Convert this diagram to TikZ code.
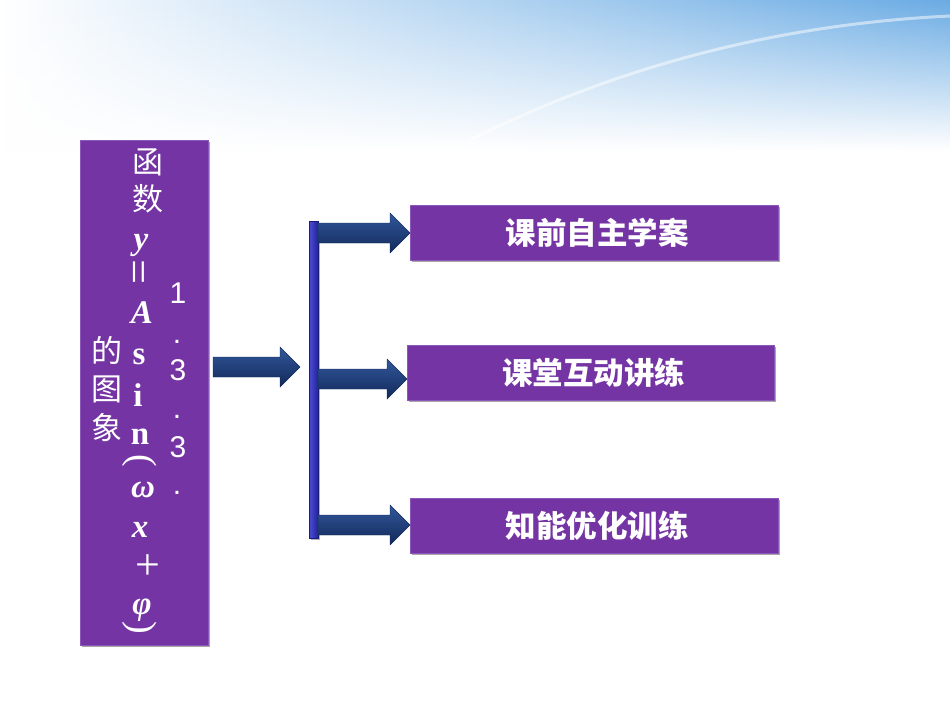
\documentclass[tikz,border=0pt]{standalone}
\usepackage{fontspec}
\setmainfont{Liberation Serif}
\newfontfamily\cjk{Noto Sans CJK SC}
\newfontfamily\sansf{Liberation Sans}
\usetikzlibrary{calc,shadows,fadings}
\definecolor{boxpurple}{HTML}{7434A4}
\definecolor{boxedge}{HTML}{8B58B9}
\definecolor{navytop}{HTML}{31579A}
\definecolor{navybot}{HTML}{12295A}
\definecolor{barlight}{HTML}{4C4CD2}
\definecolor{bardark}{HTML}{22229A}
\definecolor{skyblue}{HTML}{6AABE4}
\tikzfading[name=skyfade, top color=transparent!0, bottom color=transparent!100]
\tikzset{
  purplebox/.style={rectangle, fill=boxpurple, draw=boxedge, line width=0.6pt,
    inner sep=0pt, text=white,
    drop shadow={shadow xshift=2pt, shadow yshift=-2pt, opacity=0.35, fill=black}},
  glyph/.style={inner sep=0pt, text=white, font=\fontsize{30}{30}\selectfont},
  cglyph/.style={glyph, font=\cjk\fontsize{31}{31}\selectfont},
  lglyph/.style={glyph, font=\bfseries\itshape\fontsize{33}{33}\selectfont},
  rglyph/.style={glyph, font=\bfseries\fontsize{33}{33}\selectfont},
  dglyph/.style={glyph, font=\sansf\fontsize{30}{30}\selectfont},
  boxtext/.style={font=\cjk\bfseries\fontsize{30.5}{30.5}\selectfont},
  arrowshade/.style={top color=navytop, bottom color=navybot, draw=navybot, line width=0.4pt}
}
\newcommand\blockarrow[2]{%
  \shade[arrowshade] let \p1=(#1), \p2=(#2) in
    (\x1,\y1+10pt) -- (\x2-20pt,\y1+10pt) -- (\x2-20pt,\y1+20pt) -- (\x2,\y1)
    -- (\x2-20pt,\y1-20pt) -- (\x2-20pt,\y1-10pt) -- (\x1,\y1-10pt) -- cycle;}
\begin{document}
\begin{tikzpicture}[x=1pt,y=-1pt]
\useasboundingbox (0,0) rectangle (950,713);
\fill[white] (0,0) rectangle (950,713);
% sky
\shade[left color=white, right color=skyblue, path fading=skyfade] (0,0) rectangle (950,150);
\draw[white, opacity=0.5, line width=3pt] (470,140) .. controls (600,75) and (760,25) .. (950,16);

% left box
\node[purplebox, minimum width=128pt, minimum height=505pt, anchor=north west] (L) at (80,140) {};
% column 1
\node[cglyph] (c1a) at (107,350) {的};
\node[cglyph] (c1b) at (107,389) {图};
\node[cglyph] (c1c) at (107,427) {象};
% column 2
\node[cglyph] (c2a) at (148,162) {函};
\node[cglyph] (c2b) at (148,199) {数};
\node[lglyph] (c2c) at (141,245) {y};
\node[glyph, rotate=90, font=\fontsize{44}{44}\selectfont] (c2d) at (143,272) {=};
\node[lglyph] (c2e) at (142,313) {A};
\node[rglyph] (c2f) at (139,357) {s};
\node[rglyph] (c2g) at (138,395) {i};
\node[rglyph] (c2h) at (140,437) {n};
\node[glyph, rotate=-90, font=\fontsize{38}{38}\selectfont] (c2i) at (140,461) {(};
\node[lglyph] (c2j) at (143,490) {ω};
\node[lglyph] (c2k) at (140,530) {x};
\node[glyph, font=\fontsize{44}{44}\selectfont] (c2l) at (148,567) {+};
\node[lglyph] (c2m) at (142,610) {φ};
\node[glyph, rotate=-90, font=\fontsize{38}{38}\selectfont] (c2n) at (140,628) {)};
% column 3
\node[dglyph] (c3a) at (178,293) {1};
\node[dglyph] (c3b) at (177,342) {.};
\node[dglyph] (c3c) at (178,370) {3};
\node[dglyph] (c3d) at (177,417) {.};
\node[dglyph] (c3e) at (178,447) {3};
\node[dglyph] (c3f) at (177,493) {.};

% bar
\node[rectangle, inner sep=0pt, minimum width=9pt, minimum height=317pt, anchor=north west,
  left color=barlight, right color=bardark, draw=bardark!80!black, line width=0.4pt,
  drop shadow={shadow xshift=1.5pt, shadow yshift=-1.5pt, opacity=0.3, fill=black}] (bar) at (309,221) {};

% right boxes
\node[purplebox, boxtext, minimum width=368pt, minimum height=55pt, anchor=north west] (B1) at (410,205) {\hspace*{6pt}课前自主学案};
\node[purplebox, boxtext, minimum width=367pt, minimum height=55pt, anchor=north west] (B2) at (407,345) {\hspace*{6pt}课堂互动讲练};
\node[purplebox, boxtext, minimum width=368pt, minimum height=55pt, anchor=north west] (B3) at (410,498) {\hspace*{6pt}知能优化训练};

% arrows
\coordinate (m1) at (213,367);
\coordinate (m2) at (300,367);
\blockarrow{m1}{m2}
\coordinate (a1) at (318,233);
\coordinate (a2) at (318,379);
\coordinate (a3) at (318,525);
\blockarrow{a1}{B1.west |- a1}
\blockarrow{a2}{B2.west |- a2}
\blockarrow{a3}{B3.west |- a3}
\end{tikzpicture}
\end{document}
